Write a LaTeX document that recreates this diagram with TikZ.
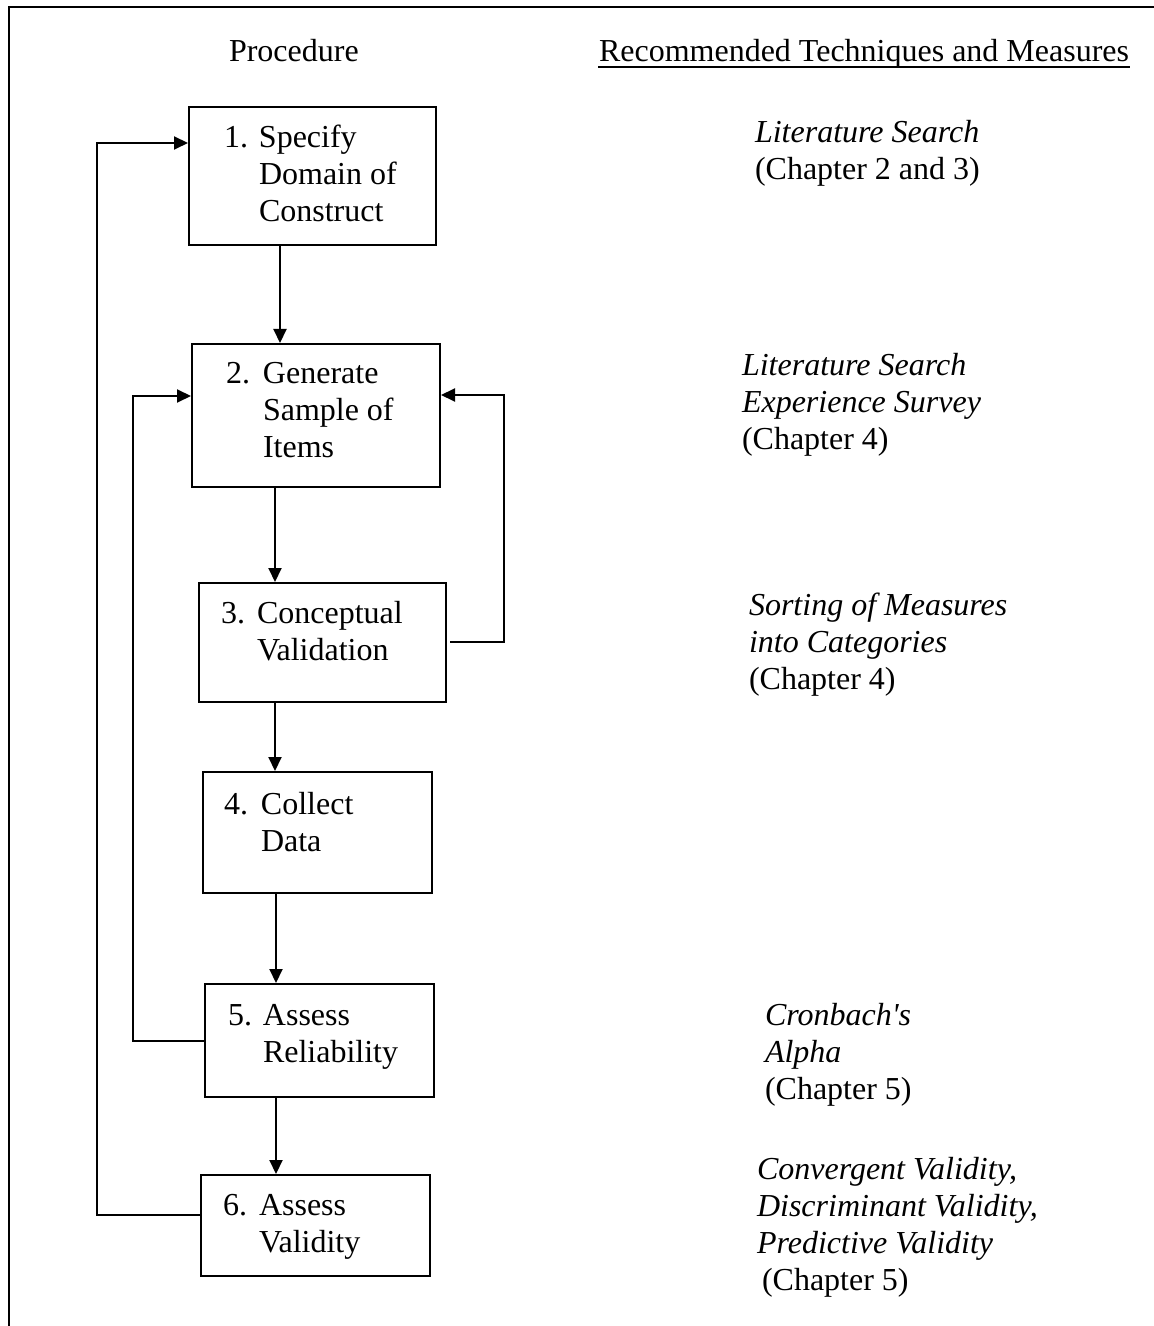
\documentclass[tikz,border=0pt]{standalone}
\usepackage{fontspec}
\setmainfont{Liberation Serif}
\usetikzlibrary{arrows.meta}
\begin{document}
\begin{tikzpicture}[x=0.5pt,y=-0.5pt,
  line width=1pt,
  font=\fontsize{16}{18.5}\selectfont,
  box/.style={draw, rectangle, inner sep=0pt},
  txt/.style={anchor=base west, inner sep=0pt},
  arr/.style={-{Triangle[length=7pt,width=6.5pt]}},
  line/.style={line width=1pt}]
\useasboundingbox (0,0) rectangle (1154,1326);
% frame
\draw[line] (9,1326) -- (9,7) -- (1154,7);
% headings
\node[txt] (proc) at (228,62) {Procedure};
\node[txt] (rec) at (598,62) {Recommended Techniques and Measures};
\draw[line width=0.8pt] ([yshift=-2.6pt]rec.base west) -- ([yshift=-2.6pt]rec.base east);
% boxes
\node[box, minimum width=123.5pt, minimum height=69pt]   (b1) at (312.5,176)   {};
\node[box, minimum width=124pt,   minimum height=71.5pt] (b2) at (316,415.5)   {};
\node[box, minimum width=123.5pt, minimum height=59.5pt] (b3) at (322.5,642.5) {};
\node[box, minimum width=114.5pt, minimum height=60.5pt] (b4) at (317.5,832.5) {};
\node[box, minimum width=114.5pt, minimum height=56.5pt] (b5) at (319.5,1040.5){};
\node[box, minimum width=114.5pt, minimum height=50.5pt] (b6) at (315.5,1225.5){};
% box texts
\node[txt] (t1) at (223,148) {\begin{tabular}[t]{@{}l@{}l@{}}\makebox[17.5pt][l]{1.}&Specify\\&Domain of\\&Construct\end{tabular}};
\node[txt] (t2) at (225,383) {\begin{tabular}[t]{@{}l@{}l@{}}\makebox[18.5pt][l]{2.}&Generate\\&Sample of\\&Items\end{tabular}};
\node[txt] (t3) at (220,623) {\begin{tabular}[t]{@{}l@{}l@{}}\makebox[18pt][l]{3.}&Conceptual\\&Validation\end{tabular}};
\node[txt] (t4) at (223,814) {\begin{tabular}[t]{@{}l@{}l@{}}\makebox[18.5pt][l]{4.}&Collect\\&Data\end{tabular}};
\node[txt] (t5) at (227,1025) {\begin{tabular}[t]{@{}l@{}l@{}}\makebox[17.5pt][l]{5.}&Assess\\&Reliability\end{tabular}};
\node[txt] (t6) at (222,1215) {\begin{tabular}[t]{@{}l@{}l@{}}\makebox[18pt][l]{6.}&Assess\\&Validity\end{tabular}};
% right column
\node[txt] (r1) at (754,143) {\begin{tabular}[t]{@{}l@{}}\textit{Literature Search}\\(Chapter 2 and 3)\end{tabular}};
\node[txt] (r2) at (741,375) {\begin{tabular}[t]{@{}l@{}}\textit{Literature Search}\\\textit{Experience Survey}\\(Chapter 4)\end{tabular}};
\node[txt] (r3) at (748,615) {\begin{tabular}[t]{@{}l@{}}\textit{Sorting of Measures}\\\textit{into Categories}\\(Chapter 4)\end{tabular}};
\node[txt] (r5) at (764,1025) {\begin{tabular}[t]{@{}l@{}}\textit{Cronbach\textquotesingle s}\\\textit{Alpha}\\(Chapter 5)\end{tabular}};
\node[txt] (r6) at (756,1179) {\begin{tabular}[t]{@{}l@{}}\textit{Convergent Validity,}\\\textit{Discriminant Validity,}\\\textit{Predictive Validity}\\\hspace{2.5pt}(Chapter 5)\end{tabular}};
% vertical flow arrows
\coordinate (x12) at (280,0);
\coordinate (x23) at (275,0);
\coordinate (x34) at (275,0);
\coordinate (x45) at (276,0);
\coordinate (x56) at (276,0);
\draw[arr] (b1.south -| x12) -- (b2.north -| x12);
\draw[arr] (b2.south -| x23) -- (b3.north -| x23);
\draw[arr] (b3.south -| x34) -- (b4.north -| x34);
\draw[arr] (b4.south -| x45) -- (b5.north -| x45);
\draw[arr] (b5.south -| x56) -- (b6.north -| x56);
% feedback loops
\coordinate (la) at (97,1215);
\coordinate (ya) at (0,143);
\draw[arr] (b6.west |- la) -- (la) -- (la |- ya) -- (b1.west |- ya);
\coordinate (lb) at (133,1041);
\coordinate (yb) at (0,396);
\draw[arr] (b5.west |- lb) -- (lb) -- (lb |- yb) -- (b2.west |- yb);
\coordinate (lc) at (504,642);
\coordinate (yc) at (0,395);
\draw[arr] ([xshift=1.5pt]b3.east |- lc) -- (lc) -- (lc |- yc) -- (b2.east |- yc);
\end{tikzpicture}
\end{document}
